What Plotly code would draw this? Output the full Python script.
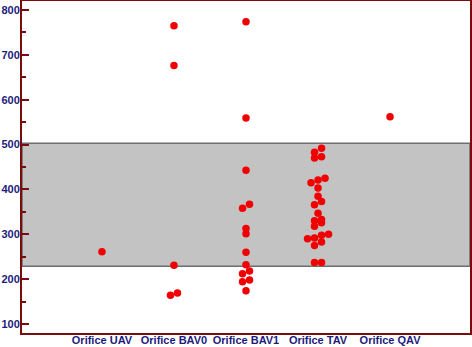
import plotly.graph_objects as go

# ---- data ----
categories = ["Orifice UAV", "Orifice BAV0", "Orifice BAV1", "Orifice TAV", "Orifice QAV"]
uav = [261]
bav0 = [765, 676, 231, 164, 169]
bav1 = [774, 559, 443, 367, 358, 313, 301, 260, 232, 218, 212, 198, 194, 174]
tav = [492, 483, 473, 470, 425, 421, 415, 403, 385, 373, 366, 347, 333, 330, 326,
       318, 300, 298, 292, 290, 283, 275, 237, 237]
qav = [562]
series_values = [uav, bav0, bav1, tav, qav]
band_low = 229
band_high = 503
y_tick_values = [100, 200, 300, 400, 500, 600, 700, 800]

# ---- simple dot-plot clustering (spread close values side by side) ----
CLUSTER = 10.0   # value window for points sharing a row
STEP = 0.097     # horizontal spacing in category units (~ one marker width)

xs, ys = [], []
for ci, vals in enumerate(series_values):
    s = sorted(vals)
    groups = []
    for v in s:
        if groups and v - groups[-1][0] <= CLUSTER:
            groups[-1].append(v)
        else:
            groups.append([v])
    for g in groups:
        n = len(g)
        for i, v in enumerate(g):
            xs.append(ci + (i - (n - 1) / 2) * STEP)
            ys.append(v)

fig = go.Figure()
fig.add_trace(go.Scatter(
    x=xs, y=ys, mode="markers",
    marker=dict(size=7.5, color="#F00000", line=dict(width=0)),
    hoverinfo="y", showlegend=False,
))

fig.add_shape(type="rect", xref="paper", yref="y", x0=0, x1=1,
              y0=band_low, y1=band_high, fillcolor="#C3C3C3",
              line=dict(color="#6E6E6E", width=1.5), layer="below")

axis_col = "#7A0C0C"
label_font = dict(family="Liberation Sans, Arial, sans-serif", size=11, color="#1C1C7C")

fig.update_layout(
    width=472, height=347,
    margin=dict(l=22, r=2, t=1, b=14, autoexpand=False),
    paper_bgcolor="white", plot_bgcolor="white",
    xaxis=dict(
        range=[-1.11, 5.11], automargin=False,
        tickmode="array", tickvals=list(range(len(categories))), ticktext=[f"<b>{c}</b>" for c in categories],
        ticks="", showgrid=False, zeroline=False,
        showline=True, mirror=True, linecolor=axis_col, linewidth=2,
        tickfont=label_font, ticklabelstandoff=-4,
    ),
    yaxis=dict(
        range=[80, 820], automargin=False,
        tickmode="array", tickvals=y_tick_values,
        ticktext=[f"<b>{v}</b>" for v in y_tick_values],
        ticks="inside", ticklen=7, tickwidth=1.5, tickcolor=axis_col,
        minor=dict(ticks="inside", ticklen=4, tickwidth=1.5, tickcolor=axis_col, dtick=50, tick0=50),
        showgrid=False, zeroline=False,
        showline=True, mirror=True, linecolor=axis_col, linewidth=2,
        tickfont=label_font, ticklabelstandoff=-2,
    ),
)

fig.write_html("out.html", config={"displayModeBar": False},
               post_script="document.body.style.margin='0';document.body.style.overflow='hidden';")
